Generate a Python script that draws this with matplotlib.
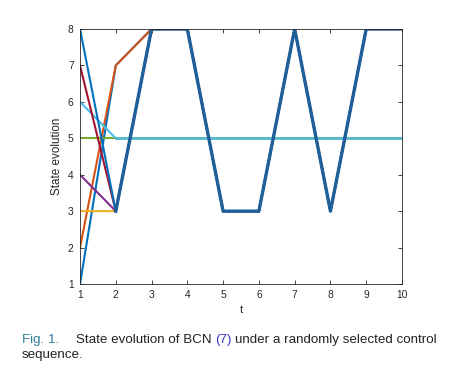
import matplotlib
matplotlib.use('Agg')
import matplotlib.pyplot as plt

# ..data: one trajectory per initial state..
t = [1, 2, 3, 4, 5, 6, 7, 8, 9, 10]
traj_1 = [1, 7, 8, 8, 3, 3, 8, 3, 8, 8]
traj_2 = [2, 7, 8, 8, 3, 3, 8, 3, 8, 8]
traj_3 = [3, 3, 8, 8, 3, 3, 8, 3, 8, 8]
traj_4 = [4, 3, 8, 8, 3, 3, 8, 3, 8, 8]
traj_5 = [5, 5, 5, 5, 5, 5, 5, 5, 5, 5]
traj_6 = [6, 5, 5, 5, 5, 5, 5, 5, 5, 5]
traj_7 = [7, 3, 8, 8, 3, 3, 8, 3, 8, 8]
traj_8 = [8, 3, 8, 8, 3, 3, 8, 3, 8, 8]
trajectories = [traj_1, traj_2, traj_3, traj_4, traj_5, traj_6, traj_7, traj_8]

# ..matlab default colour order..
colors = ['#0072BD', '#D95319', '#EDB120', '#7E2F8E',
          '#77AC30', '#4DBEEE', '#A2142F', '#0072BD']

plt.rcParams['font.family'] = ['Liberation Sans', 'DejaVu Sans']

fig = plt.figure(figsize=(4.49, 3.76), dpi=100)
W, H = 449, 376
ax = fig.add_axes([80 / W, (H - 284) / H, 322 / W, 255 / H])

for y, c in zip(trajectories, colors):
    ax.plot(t, y, color=c, linewidth=1.5, solid_joinstyle='miter')
# ..the shared tails look heavier in the reference..
ax.plot(t[1:], traj_6[1:], color='#5BB8CC', linewidth=2.0)
ax.plot(t[1:], traj_8[1:], color='#1F5F9A', linewidth=2.4)

ax.set_xlim(1, 10)
ax.set_ylim(1, 8)
ax.set_xticks(t)
ax.set_yticks(range(1, 9))
ax.tick_params(direction='in', top=True, right=True, length=3, width=0.6,
               labelsize=7.4, colors='#262626', pad=4.5)
for s in ax.spines.values():
    s.set_color('#262626')
    s.set_linewidth(0.6)
ax.set_xlabel('t', fontsize=8, color='#262626', labelpad=3.5)
ax.set_ylabel('State evolution', fontsize=8.4, color='#262626', labelpad=3.5)

# ..caption, pieces chained one after the other..
fs = 9.6
yb1 = 1 - 343 / H
yb2 = 1 - 358 / H
fig.canvas.draw()
r = fig.canvas.get_renderer()

def put(x_px, text, color):
    tx = fig.text(x_px / W, yb1, text, fontsize=fs, color=color, va='baseline')
    return tx.get_window_extent(r).x1

fig.text(22 / W, yb1, 'Fig. 1.', fontsize=fs, color='#2F7E9E', va='baseline')
x = put(76, 'State evolution of BCN', '#222222')
sp = 3.3
x = put(x + sp, '(7)', '#3535C8')
put(x + sp, 'under a randomly selected control', '#222222')
fig.text(22 / W, yb2, 'sequence.', fontsize=fs, color='#222222', va='baseline')

fig.savefig('out.png', dpi=100)
